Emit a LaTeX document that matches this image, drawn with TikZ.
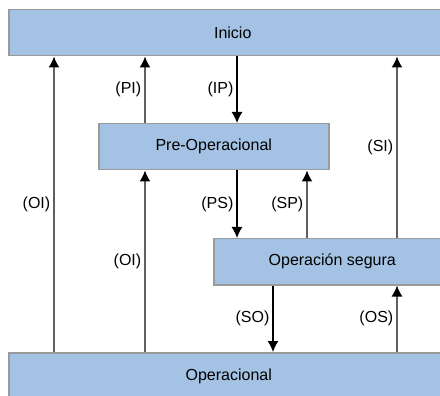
\documentclass[tikz,border=0pt]{standalone}
\usepackage{fontspec}
\setmainfont{Liberation Sans}
\usetikzlibrary{arrows.meta}
\definecolor{sblue}{HTML}{A4C2E4}
\definecolor{sgray}{HTML}{9A9A9A}
\definecolor{lgray}{HTML}{606060}
\tikzset{state/.style = {draw = sgray, line width = 1.5, fill = sblue, inner sep = 0, anchor = north west, minimum height = 46, font = \fontsize{16}{19}\selectfont}}
\tikzset{up/.style = {lgray, line width = 1.5, -{Latex[black, length = 11, width = 11]}}}
\tikzset{down/.style = {black, line width = 1.2, -{Latex[length = 11, width = 11]}}}
\tikzset{lbl/.style = {left, inner sep = 3, black, font = \fontsize{16}{19}\selectfont}}

\begin{document}
\begin{tikzpicture}[x = 1pt, y = -1pt]
    \useasboundingbox (0, 0) rectangle (440, 396);
    \clip (0, 0) rectangle (440, 396);

    \node [state, minimum width = 448] (ini) at (8, 9) {Inicio};
    \node [state, minimum width = 230] (pre) at (98, 123) {Pre-Operacional};
    \node [state, minimum width = 237] (seg) at (213, 238) {Operación segura};
    \node [state, minimum width = 440, minimum height = 48] (ope) at (8, 352) {Operacional};

    % columns of the connectors
    \coordinate (c1) at (54, 0);
    \coordinate (c2) at (145, 0);
    \coordinate (c3) at (237, 0);
    \coordinate (c4) at (273, 0);
    \coordinate (c5) at (307, 0);
    \coordinate (c6) at (397, 0);

    \draw [up] (ope.north -| c1) -- node [lbl] {(OI)} (ini.south -| c1);
    \draw [up] (ope.north -| c2) -- node [lbl] {(OI)} (pre.south -| c2);
    \draw [up] (pre.north -| c2) -- node [lbl] {(PI)} (ini.south -| c2);
    \draw [down] (ini.south -| c3) -- node [lbl] {(IP)} (pre.north -| c3);
    \draw [down] (pre.south -| c3) -- node [lbl] {(PS)} (seg.north -| c3);
    \draw [up] (seg.north -| c5) -- node [lbl] {(SP)} (pre.south -| c5);
    \draw [up] (seg.north -| c6) -- node [lbl] {(SI)} (ini.south -| c6);
    \draw [down] (seg.south -| c4) -- node [lbl] {(SO)} (ope.north -| c4);
    \draw [up] (ope.north -| c6) -- node [lbl] {(OS)} (seg.south -| c6);
  \end{tikzpicture}
\end{document}
